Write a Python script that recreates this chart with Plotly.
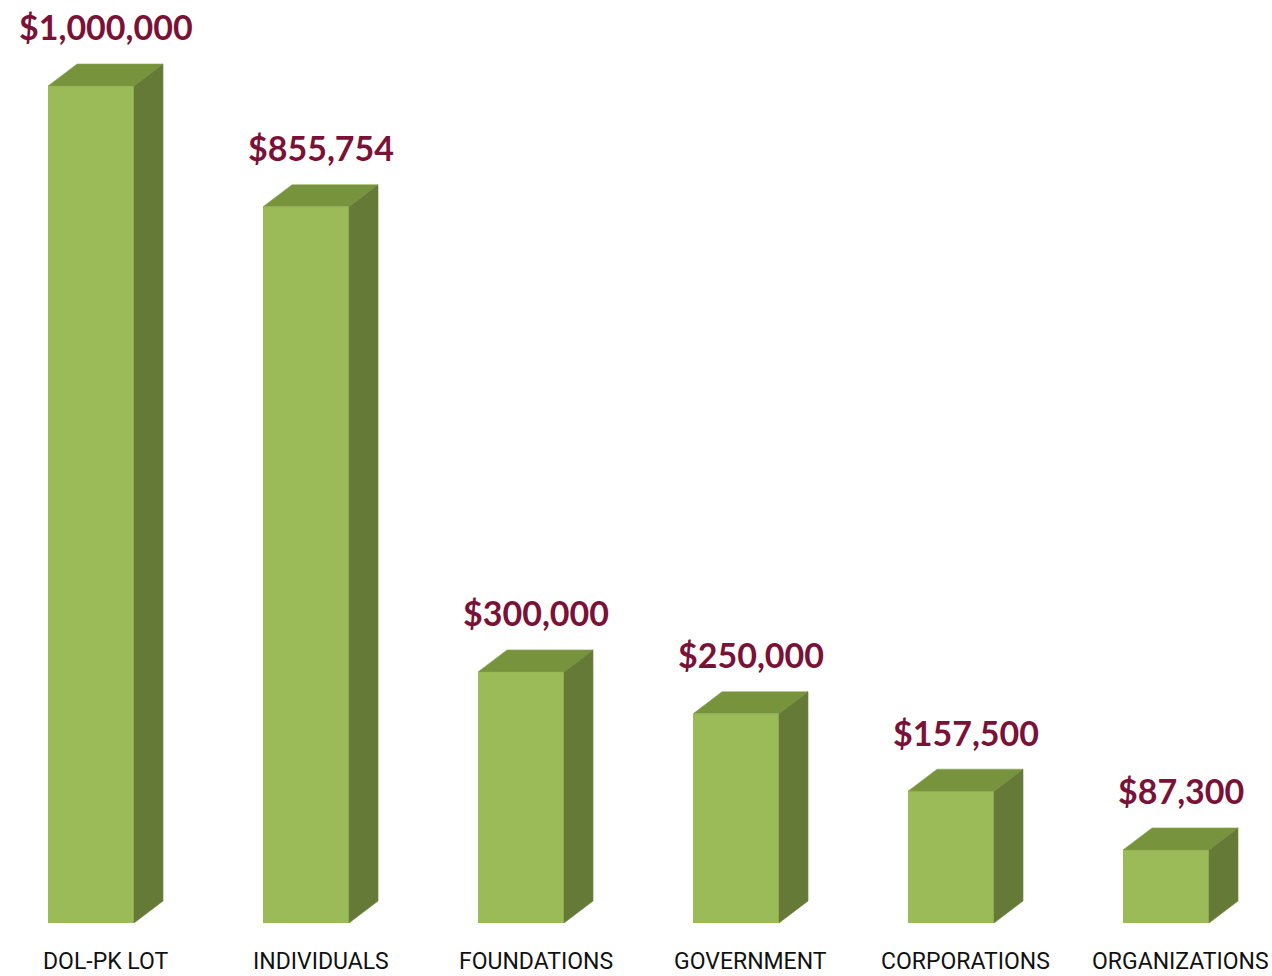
import plotly.graph_objects as go

categories = ["DOL-PK LOT", "INDIVIDUALS", "FOUNDATIONS", "GOVERNMENT", "CORPORATIONS", "ORGANIZATIONS"]
values = [1000000, 855754, 300000, 250000, 157500, 87300]
value_labels = ["$1,000,000", "$855,754", "$300,000", "$250,000", "$157,500", "$87,300"]

FRONT = "#9BBB59"
TOP = "#77933C"
SIDE = "#647A36"
LABEL = "#7A1238"

W, H = 1272, 976
half_w = 0.2          # half width of front face, category units
dx = 0.135            # depth offset, category units
dy = 26300            # depth offset, value units

x = list(range(len(categories)))
fig = go.Figure()
fig.add_trace(go.Bar(x=x, y=values, width=2 * half_w, marker=dict(color=FRONT, line=dict(width=0)),
                     hoverinfo="skip"))

for i, v in zip(x, values):
    # top face
    fig.add_trace(go.Scatter(
        x=[i - half_w, i + half_w, i + half_w + dx, i - half_w + dx, i - half_w],
        y=[v, v, v + dy, v + dy, v],
        fill="toself", fillcolor=TOP, mode="lines", line=dict(width=0.6, color="#8AA84E"),
        hoverinfo="skip"))
    # side face
    fig.add_trace(go.Scatter(
        x=[i + half_w, i + half_w + dx, i + half_w + dx, i + half_w, i + half_w],
        y=[0, dy, v + dy, v, 0],
        fill="toself", fillcolor=SIDE, mode="lines", line=dict(width=0.6, color="#6E8540"),
        hoverinfo="skip"))

annotations = []
for i, v, t, c in zip(x, values, value_labels, categories):
    annotations.append(dict(x=i + dx / 2, y=v + dy, text=f"<b>{t}</b>", showarrow=False,
                            xanchor="center", yanchor="middle", yshift=37,
                            font=dict(family="Lato", size=34, color=LABEL, weight=900)))
    annotations.append(dict(x=i + dx / 2, y=0, text=c, showarrow=False,
                            xanchor="center", yanchor="middle", yshift=-38,
                            font=dict(family="Liberation Sans Narrow, Roboto", size=23, color="#111111")))

fig.update_layout(
    width=W, height=H, margin=dict(l=0, r=0, t=0, b=0),
    paper_bgcolor="white", plot_bgcolor="white", showlegend=False,
    bargap=0,
    xaxis=dict(range=[-91 / 215, (W - 91) / 215], visible=False, fixedrange=True),
    yaxis=dict(range=[-(53 / 837) * 1e6, (923 / 837) * 1e6], visible=False, fixedrange=True),
    annotations=annotations,
)
fig.write_html("out.html")
